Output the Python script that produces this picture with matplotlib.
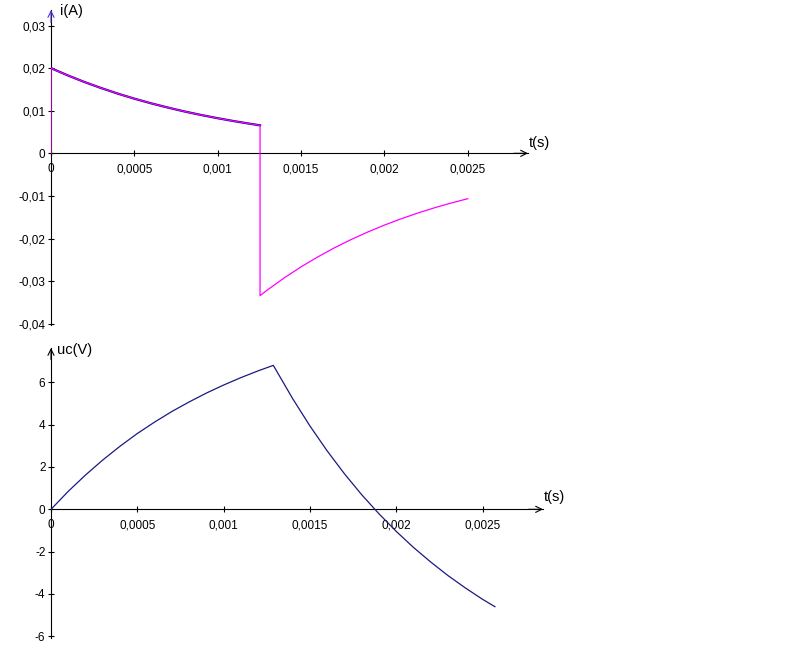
import matplotlib
matplotlib.use("Agg")
import matplotlib.pyplot as plt
from matplotlib.ticker import FuncFormatter

plt.rcParams["font.family"] = ["Liberation Sans", "DejaVu Sans"]

W, H = 797, 653

# current i(t), charge phase (s, A)
t_charge = [0, 0, 0.0001, 0.0002, 0.0003, 0.0004, 0.0005, 0.0006, 0.0007,
            0.0008, 0.0009, 0.0010, 0.0011, 0.0012, 0.001254]
i_charge = [0, 0.0200, 0.01830, 0.01675, 0.01533, 0.01402, 0.01283, 0.01174,
            0.01075, 0.00983, 0.00900, 0.00824, 0.00754, 0.00690, 0.00657]

# current i(t), discharge phase
t_dis = [0.001254, 0.001254, 0.0013, 0.0014, 0.0015, 0.0016, 0.0017, 0.0018,
         0.0019, 0.0020, 0.0021, 0.0022, 0.0023, 0.0024, 0.0025]
i_dis = [0.00657, -0.0334, -0.03202, -0.02921, -0.02665, -0.02432, -0.02218,
         -0.02024, -0.01847, -0.01685, -0.01537, -0.01402, -0.01279, -0.01167,
         -0.01065]

# capacitor voltage uc(t) (s, V)
t_uc = [0, 0.0001, 0.0002, 0.0003, 0.0004, 0.0005, 0.0006, 0.0007, 0.0008,
        0.0009, 0.0010, 0.0011, 0.0012, 0.001288, 0.0014, 0.0015, 0.0016,
        0.0017, 0.0018, 0.0019, 0.0020, 0.0021, 0.0022, 0.0023, 0.0024,
        0.0025, 0.002572]
uc = [0, 0.85, 1.62, 2.33, 2.98, 3.58, 4.12, 4.62, 5.07, 5.49, 5.87, 6.22,
      6.54, 6.80, 5.23, 3.94, 2.76, 1.68, 0.69, -0.21, -1.04, -1.80, -2.49,
      -3.13, -3.71, -4.25, -4.60]

t_ticks = [0, 0.0005, 0.001, 0.0015, 0.002, 0.0025]
i_ticks = [-0.04, -0.03, -0.02, -0.01, 0, 0.01, 0.02, 0.03]
uc_ticks = [-6, -4, -2, 0, 2, 4, 6]


def fr(v, _pos=None):
    if abs(v) < 1e-12:
        return "0"
    return f"{v:g}".replace(".", ",")


def make_axes(fig, x0, x1, ytop, ybot):
    # pixel box -> figure fraction
    return fig.add_axes([x0 / W, 1 - ybot / H, (x1 - x0) / W, (ybot - ytop) / H])


def style(ax, xmax, ylo, yhi, yticks, arrow_color):
    ax.set_xlim(0, xmax)
    ax.set_ylim(ylo, yhi)
    ax.set_facecolor("none")
    for s in ("top", "right"):
        ax.spines[s].set_visible(False)
    ax.spines["bottom"].set_position(("data", 0))
    ax.spines["left"].set_position(("data", 0))
    for s in ("bottom", "left"):
        ax.spines[s].set_linewidth(0.8)
    ax.set_xticks(t_ticks)
    ax.set_yticks(yticks)
    ax.xaxis.set_major_formatter(FuncFormatter(fr))
    ax.yaxis.set_major_formatter(FuncFormatter(fr))
    ax.tick_params(direction="inout", length=5, width=0.8, labelsize=8.5)
    ax.tick_params(axis="x", pad=4.5)
    ax.tick_params(axis="y", pad=1.5)
    ax.annotate("", xy=(xmax, 0), xytext=(xmax * 0.97, 0),
                arrowprops=dict(arrowstyle="->", lw=0.8, color="black",
                                shrinkA=0, shrinkB=0, mutation_scale=11),
                annotation_clip=False)
    dy = (yhi - ylo) * 0.04
    ax.annotate("", xy=(0, yhi), xytext=(0, yhi - dy),
                arrowprops=dict(arrowstyle="->", lw=0.8, color=arrow_color,
                                shrinkA=0, shrinkB=0, mutation_scale=11),
                annotation_clip=False)


fig = plt.figure(figsize=(W / 100, H / 100), dpi=100)

# top: i(t)
ax1 = make_axes(fig, 51, 528, 10, 324.6)
style(ax1, (528 - 51) / 166700, -0.0402, 0.03364, i_ticks, "#5030d8")
ax1.plot(t_charge[1:], i_charge[1:], color="#000080", lw=1.6, zorder=3)
ax1.plot(t_charge + t_dis, i_charge + i_dis, color="#ff00ff", lw=0.9, zorder=4)

# bottom: uc(t)
ax2 = make_axes(fig, 51, 543, 348, 637.6)
style(ax2, (543 - 51) / 172600, -6.06, 7.62, uc_ticks, "black")
ax2.plot(t_uc, uc, color="#1a1a80", lw=0.9, zorder=3)

fig.text(60 / W, 1 - 11 / H, "i(A)", fontsize=10.5, va="center", ha="left")
fig.text(529 / W, 1 - 143 / H, "t(s)", fontsize=10.5, va="center", ha="left")
fig.text(57 / W, 1 - 350 / H, "uc(V)", fontsize=10.5, va="center", ha="left")
fig.text(544 / W, 1 - 497 / H, "t(s)", fontsize=10.5, va="center", ha="left")

fig.savefig("out.png", dpi=100)
